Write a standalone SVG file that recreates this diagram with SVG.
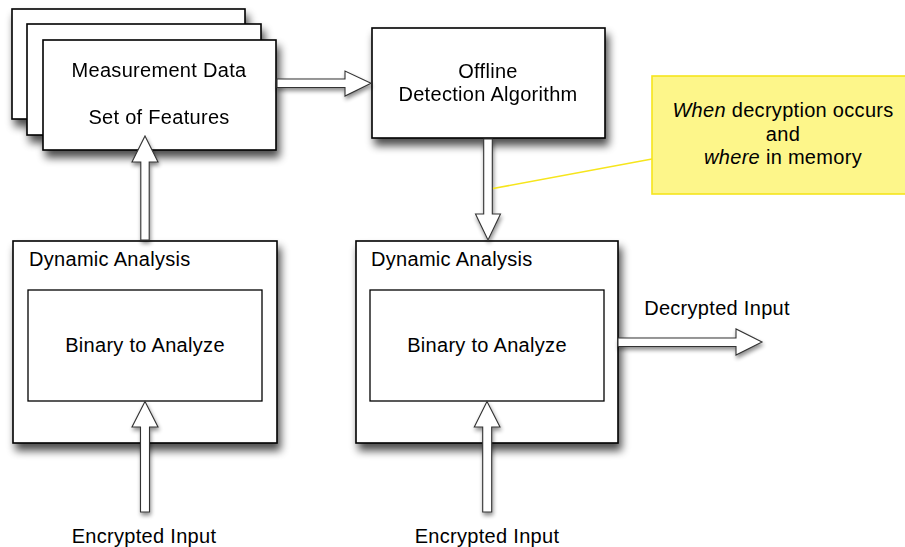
<svg xmlns="http://www.w3.org/2000/svg" width="905" height="547" viewBox="0 0 905 547">
  <defs>
    <filter id="shadow" x="-10%" y="-10%" width="130%" height="140%">
      <feGaussianBlur in="SourceAlpha" stdDeviation="4"/>
      <feOffset dx="3" dy="7" result="blur"/>
      <feComponentTransfer><feFuncA type="linear" slope="0.7"/></feComponentTransfer>
      <feMerge><feMergeNode/><feMergeNode in="SourceGraphic"/></feMerge>
    </filter>
    <filter id="arrowShadow" x="-50%" y="-10%" width="200%" height="130%">
      <feGaussianBlur in="SourceAlpha" stdDeviation="2"/>
      <feOffset dx="1" dy="3" result="blur"/>
      <feComponentTransfer><feFuncA type="linear" slope="0.45"/></feComponentTransfer>
      <feMerge><feMergeNode/><feMergeNode in="SourceGraphic"/></feMerge>
    </filter>
  </defs>
  <style>
    .box { fill: #ffffff; stroke: #000000; stroke-width: 1.6; }
    .inner { fill: #ffffff; stroke: #000000; stroke-width: 1.3; }
    .note { fill: #fdf68a; stroke: #f6e51c; stroke-width: 1.6; }
    .arrow { fill: #ffffff; stroke: #333333; stroke-width: 1.1; stroke-linejoin: miter; }
    .lbl { font-family: "Liberation Sans", Arial, Helvetica, sans-serif; font-size: 20px; letter-spacing: 0.3px; fill: #000000; }
    .mid { text-anchor: middle; }
    .callout { stroke: #f6e51c; stroke-width: 1.6; fill: none; }
  </style>

  <!-- Stack of measurement data sheets -->
  <g id="measurement-data" filter="url(#shadow)">
    <rect class="box" x="12" y="9" width="233" height="110"/>
    <rect class="box" x="27" y="24" width="234" height="111"/>
    <rect class="box" x="43" y="40" width="233" height="110"/>
    <text class="lbl mid" x="159" y="77">Measurement Data</text>
    <text class="lbl mid" x="159" y="124">Set of Features</text>
  </g>

  <!-- Offline detection algorithm -->
  <g id="offline-detection" filter="url(#shadow)">
    <rect class="box" x="372" y="28" width="233" height="110"/>
    <text class="lbl mid" x="488" y="78">Offline</text>
    <text class="lbl mid" x="488" y="101">Detection Algorithm</text>
  </g>

  <!-- Annotation note -->
  <g id="note">
    <rect class="note" x="652" y="76" width="262" height="118"/>
    <text class="lbl mid" x="783" y="117"><tspan font-style="italic">When</tspan> decryption occurs</text>
    <text class="lbl mid" x="783" y="141">and</text>
    <text class="lbl mid" x="783" y="164"><tspan font-style="italic">where</tspan> in memory</text>
  </g>

  <!-- Dynamic analysis (training side) -->
  <g id="dynamic-analysis-left">
    <rect class="box" x="13" y="241" width="264" height="202" filter="url(#shadow)"/>
    <text class="lbl" x="29" y="266">Dynamic Analysis</text>
    <rect class="inner" x="28" y="290" width="234" height="111"/>
    <text class="lbl mid" x="145" y="352">Binary to Analyze</text>
  </g>

  <!-- Dynamic analysis (detection side) -->
  <g id="dynamic-analysis-right">
    <rect class="box" x="356" y="241" width="262" height="202" filter="url(#shadow)"/>
    <text class="lbl" x="371" y="266">Dynamic Analysis</text>
    <rect class="inner" x="370" y="290" width="234" height="111"/>
    <text class="lbl mid" x="487" y="352">Binary to Analyze</text>
  </g>

  <!-- Connectors -->
  <g id="connectors" filter="url(#arrowShadow)">
    <!-- data stack to offline detection -->
    <polygon class="arrow" points="277,79 345,79 345,71 371,83.3 345,96 345,87.5 277,87.5"/>
    <!-- left dynamic analysis up to data stack -->
    <polygon class="arrow" points="140.8,240 140.8,162 132,162 145,136 158,162 149.2,162 149.2,240"/>
    <!-- offline detection down to right dynamic analysis -->
    <polygon class="arrow" points="483.7,139 492.3,139 492.3,214 500.5,214 488,240 475.5,214 483.7,214"/>
    <!-- right dynamic analysis out to decrypted input -->
    <polygon class="arrow" points="618,338 736,338 736,329 762,342 736,355 736,346.5 618,346.5"/>
    <!-- encrypted input into left binary -->
    <polygon class="arrow" points="140.5,512 140.5,427 132,427 145,401.5 158,427 149.5,427 149.5,512"/>
    <!-- encrypted input into right binary -->
    <polygon class="arrow" points="482.7,512 482.7,427 474.3,427 487,401.5 500,427 491.7,427 491.7,512"/>
  </g>
  <line class="callout" x1="493" y1="188.5" x2="652" y2="159"/>

  <!-- Free-standing labels -->
  <g id="labels">
    <text class="lbl mid" x="717" y="315">Decrypted Input</text>
    <text class="lbl mid" x="144" y="543">Encrypted Input</text>
    <text class="lbl mid" x="487" y="543">Encrypted Input</text>
  </g>
</svg>
